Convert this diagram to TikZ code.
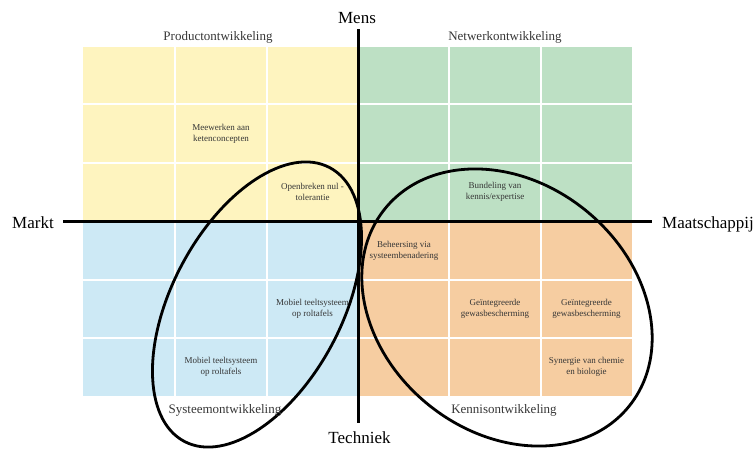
\documentclass[tikz,border=0pt]{standalone}
\usepackage{fontspec}
\setmainfont{Liberation Serif}
\definecolor{prodyellow}{HTML}{FEF4BF}
\definecolor{netgreen}{HTML}{BDE0C4}
\definecolor{sysblue}{HTML}{CDE9F5}
\definecolor{kenorange}{HTML}{F6CDA1}
\definecolor{celltext}{HTML}{363636}
\begin{document}
\begin{tikzpicture}[
        x=1pt, y=-1pt,
        cell/.style={align=center, text=celltext, font=\fontsize{9}{11}\selectfont, inner sep=0pt},
        title/.style={anchor=base, text=celltext, font=\fontsize{13}{15}\selectfont, inner sep=0pt},
        axislabel/.style={font=\fontsize{17}{20}\selectfont, inner sep=0pt},
        gridline/.style={draw=white, line width=1.5pt},
        axis/.style={line width=3pt},
        ring/.style={line width=2.8pt}
    ]
    \useasboundingbox (0,0) rectangle (756,448);

    % quadrants
    \fill[prodyellow] (83,47) rectangle (358,221);
    \fill[netgreen] (358,47) rectangle (632,221);
    \fill[sysblue] (83,221) rectangle (358,396);
    \fill[kenorange] (358,221) rectangle (632,396);

    \draw[gridline] (175,47) -- (175,396) (267,47) -- (267,396)
        (449,47) -- (449,396) (541,47) -- (541,396);
    \draw[gridline] (83,104) -- (632,104) (83,163) -- (632,163)
        (83,280) -- (632,280) (83,338) -- (632,338);

    % clusters
    \draw[ring, rotate around={62:(257,304.5)}] (257,304.5) ellipse [x radius=155, y radius=85];
    \draw[ring, rotate around={-39:(507,307.5)}] (507,307.5) ellipse [x radius=157, y radius=125];

    % axes
    \coordinate (atop) at (358,29);
    \coordinate (abottom) at (358,423);
    \coordinate (aleft) at (63,221);
    \coordinate (aright) at (652,221);
    \draw[axis] (atop) -- (abottom);
    \draw[axis] (aleft) -- (aright);

    \node[axislabel, anchor=base] (mens) at (357,23) {Mens};
    \node[axislabel, anchor=base] (techniek) at (359.5,443) {Techniek};
    \node[axislabel, anchor=base west] (markt) at (12,228) {Markt};
    \node[axislabel, anchor=base west] (maatschappij) at (662,228) {Maatschappij};

    % quadrant titles
    \node[title] (prod) at (218,40) {Productontwikkeling};
    \node[title] (netw) at (505,40) {Netwerkontwikkeling};
    \node[title] (syst) at (225,413) {Systeemontwikkeling};
    \node[title] (kenn) at (504,413) {Kennisontwikkeling};

    % cells
    \node[cell] (keten) at (221,133.5) {Meewerken aan\\ketenconcepten};
    \node[cell] (nultol) at (312.5,192) {Openbreken nul -\\tolerantie};
    \node[cell] (bundel) at (495,192) {Bundeling van\\kennis/expertise};
    \node[cell] (beheer) at (404,250.5) {Beheersing via\\systeembenadering};
    \node[cell] (gewasa) at (495,309) {Geïntegreerde\\gewasbescherming};
    \node[cell] (gewasb) at (586.5,309) {Geïntegreerde\\gewasbescherming};
    \node[cell] (synergie) at (586.5,367) {Synergie van chemie\\en biologie};
    \node[cell] (mobiela) at (312.5,309) {Mobiel teeltsysteem\\op roltafels};
    \node[cell] (mobielb) at (221,367) {Mobiel teeltsysteem\\op roltafels};

    \end{tikzpicture}
\end{document}
